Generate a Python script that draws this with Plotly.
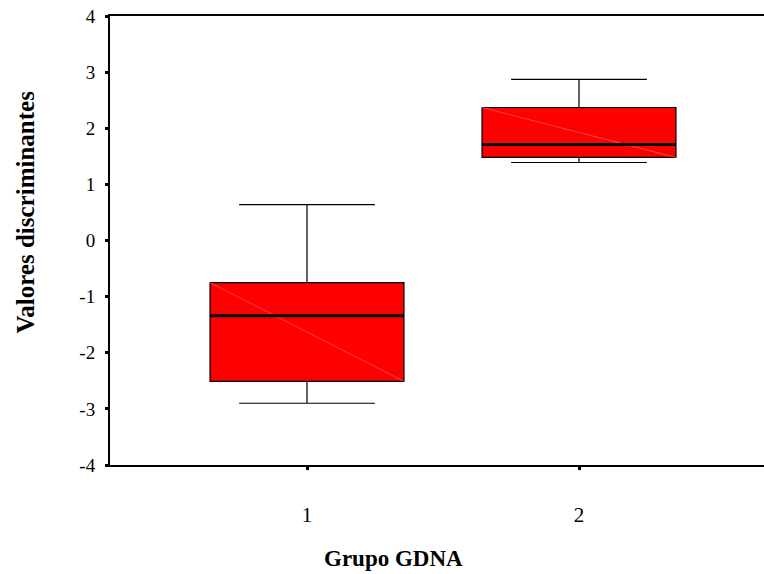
import plotly.graph_objects as go

groups = [1, 2]
group_labels = ["1", "2"]
upper_whisker = [0.64, 2.87]
q3_vals = [-0.75, 2.37]
median_vals = [-1.34, 1.71]
q1_vals = [-2.51, 1.48]
lower_whisker = [-2.90, 1.39]
y_ticks = [-4, -3, -2, -1, 0, 1, 2, 3, 4]
y_tick_labels = ["-4", "-3", "-2", "-1", "0", "1", "2", "3", "4"]

box_w = 0.713

fig = go.Figure()
for i, g in enumerate(groups):
    fig.add_trace(go.Box(
        x=[g], q1=[q1_vals[i]], median=[median_vals[i]], q3=[q3_vals[i]],
        lowerfence=[lower_whisker[i]], upperfence=[upper_whisker[i]],
        width=box_w, whiskerwidth=0.7,
        fillcolor="#ff0000", line=dict(color="black", width=1.2),
        boxpoints=False, showlegend=False, hoverinfo="skip",
    ))
    # faint diagonal artifact
    fig.add_trace(go.Scatter(
        x=[g - box_w / 2, g + box_w / 2], y=[q3_vals[i], q1_vals[i]],
        mode="lines", line=dict(color="#ff7070", width=0.6),
        showlegend=False, hoverinfo="skip",
    ))
    # thick median
    fig.add_trace(go.Scatter(
        x=[g - box_w / 2, g + box_w / 2], y=[median_vals[i], median_vals[i]],
        mode="lines", line=dict(color="black", width=3),
        showlegend=False, hoverinfo="skip",
    ))

serif = "Liberation Serif, Times New Roman, serif"
fig.update_layout(
    width=764, height=574,
    margin=dict(l=110, r=0, t=16, b=109),
    paper_bgcolor="white", plot_bgcolor="white",
    font=dict(family=serif, color="black"),
    xaxis=dict(
        range=[1 - 197 / 272, 1 + 457 / 272],
        tickvals=groups, ticktext=group_labels,
        showline=True, linecolor="black", linewidth=2, mirror=True,
        ticks="outside", ticklen=3, tickwidth=3, tickcolor="black",
        showgrid=False, zeroline=False,
        tickfont=dict(size=21, family=serif),
        ticklabelstandoff=27,
    ),
    yaxis=dict(
        range=[-4, 4], tickvals=y_ticks, ticktext=y_tick_labels,
        showline=True, linecolor="black", linewidth=2,
        ticks="outside", ticklen=3, tickwidth=3, tickcolor="black",
        showgrid=False, zeroline=False,
        tickfont=dict(size=19, family=serif),
        ticklabelstandoff=6,
    ),
    annotations=[
        dict(text="<b>Valores discriminantes</b>", xref="paper", yref="paper",
             x=(25 - 110) / 654, y=(465 - 212.5) / 449, textangle=-90,
             showarrow=False, xanchor="center", yanchor="middle",
             font=dict(size=25, family=serif, color="black")),
        dict(text="<b>Grupo GDNA</b>", xref="paper", yref="paper",
             x=(393 - 110) / 654, y=(465 - 558) / 449,
             showarrow=False, xanchor="center", yanchor="middle",
             font=dict(size=23, family=serif, color="black")),
    ],
)

fig.write_html("out.html")
